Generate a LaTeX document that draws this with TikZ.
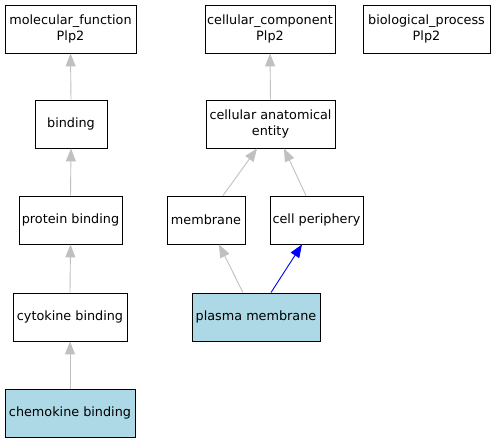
\documentclass[tikz,border=0pt]{standalone}
\usepackage{fontspec}
\setmainfont{DejaVu Sans}
\usetikzlibrary{arrows.meta}
\definecolor{lblue}{HTML}{ADD8E6}
\definecolor{edgegray}{HTML}{C0C0C0}
\begin{document}
\begin{tikzpicture}[x=1pt,y=1pt,
  term/.style={draw=black, line width=0.9pt, minimum height=48pt, inner sep=0pt, align=center,
    font=\fontsize{12.8}{16}\selectfont},
  hit/.style={term, fill=lblue},
  isa/.style={draw=edgegray, line width=0.9pt, -{Triangle[length=13pt,width=10pt]}},
  part/.style={draw=blue, line width=0.9pt, -{Triangle[length=13pt,width=10pt]}}]
\useasboundingbox (0,0) rectangle (495,443);
\node[term, minimum width=131pt] (mf) at (70.5,414) {molecular\_function\\Plp2};
\node[term, minimum width=72pt] (bind) at (71,319) {binding};
\node[term, minimum width=103pt] (pb) at (70.5,223) {protein binding};
\node[term, minimum width=114pt] (cyb) at (70,126) {cytokine binding};
\node[hit, minimum width=130pt] (chb) at (70,30) {chemokine binding};
\node[term, minimum width=130pt] (cc) at (270,414) {cellular\_component\\Plp2};
\node[term, minimum width=127pt] (bp) at (426.5,414) {biological\_process\\Plp2};
\node[term, minimum width=129pt] (cae) at (270.5,319) {cellular anatomical\\entity};
\node[term, minimum width=78pt] (mem) at (206,223) {membrane};
\node[term, minimum width=93pt] (cp) at (316.5,223) {cell periphery};
\node[hit, minimum width=128pt] (pm) at (256,126) {plasma membrane};
\draw[isa] (bind.north) -- (mf.south);
\draw[isa] (pb.north) -- (bind.south);
\draw[isa] (cyb.north) -- (pb.south);
\draw[isa] (chb.north) -- (cyb.south);
\draw[isa] (cae.north) -- (cc.south);
\draw[isa] ([xshift=17pt]mem.north) -- ([xshift=-13.5pt]cae.south);
\draw[isa] ([xshift=-10.5pt]cp.north) -- ([xshift=13.5pt]cae.south);
\draw[isa] ([xshift=-13pt]pm.north) -- ([xshift=13pt]mem.south);
\draw[part] ([xshift=15pt]pm.north) -- ([xshift=-14.5pt]cp.south);
\end{tikzpicture}
\end{document}
